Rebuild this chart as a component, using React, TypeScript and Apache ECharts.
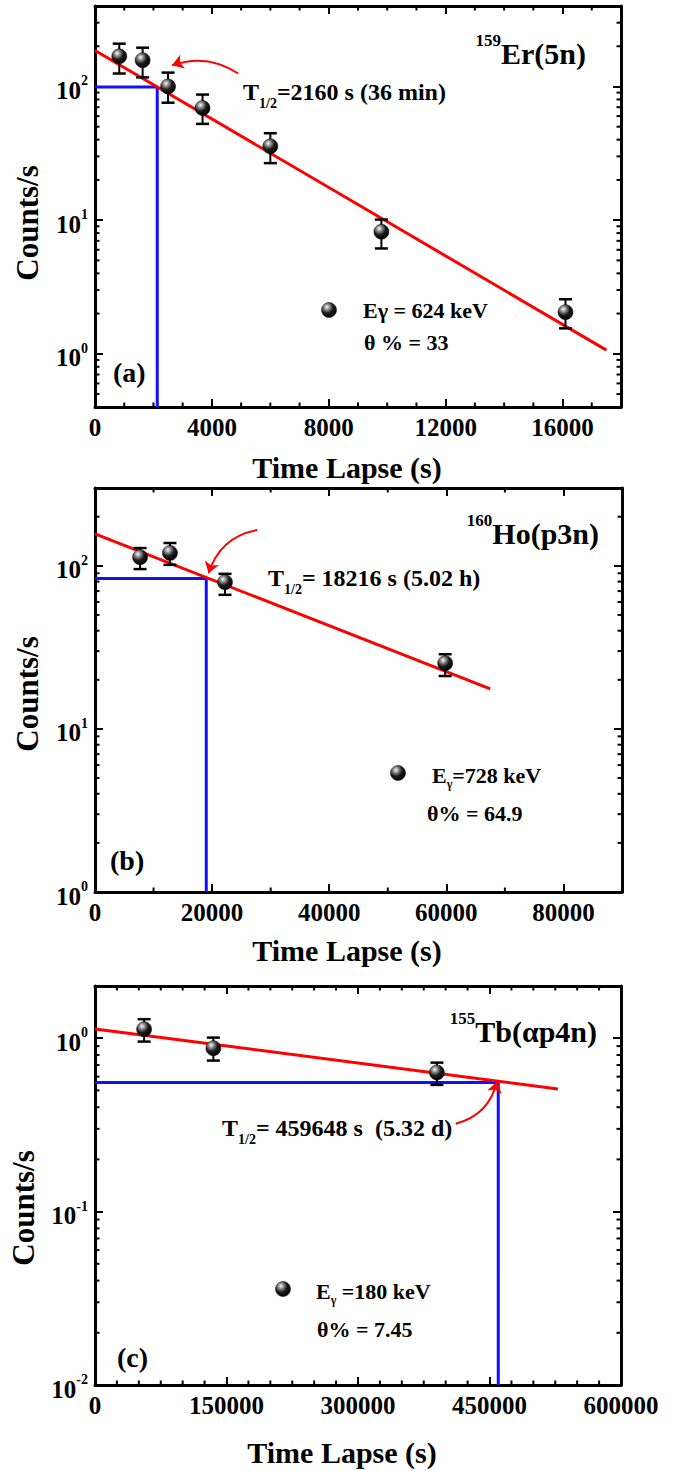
import React, { useEffect, useRef } from "react";
import * as echarts from "echarts";

const FONT = '"Liberation Serif", "Times New Roman", serif';

// ---- Panel (a): 159Er(5n) ----
const aTime = [830, 1630, 2500, 3680, 6000, 9800, 16100];
const aCounts = [168, 157, 100, 69, 35.7, 8.2, 2.05];
const aErrLow = [125, 117, 75.6, 52.5, 26.7, 6.14, 1.55];
const aErrHigh = [209, 195, 127, 87, 44.7, 10.1, 2.56];
const aFitTime = [0, 17500];
const aFitCounts = [186, 1.066];
const aHalfTime = 2130;
const aHalfCounts = 99;
const aArrow = [[4900, 125], [2640, 144]];

// ---- Panel (b): 160Ho(p3n) ----
const bTime = [7700, 12800, 22200, 59800];
const bCounts = [113, 120, 79.4, 25.3];
const bErrLow = [95.5, 101.4, 66.4, 21.1];
const bErrHigh = [128.5, 138, 89.3, 28.7];
const bFitTime = [0, 67500];
const bFitCounts = [157, 17.6];
const bHalfTime = 19000;
const bHalfCounts = 83.6;
const bArrow = [[27700, 166], [19400, 90]];

// ---- Panel (c): 155Tb(αp4n) ----
const cTime = [56000, 135000, 390000];
const cCounts = [1.127, 0.876, 0.634];
const cErrLow = [0.956, 0.743, 0.538];
const cErrHigh = [1.287, 1.008, 0.723];
const cFitTime = [0, 528000];
const cFitCounts = [1.131, 0.51];
const cHalfTime = 460000;
const cHalfCounts = 0.555;
const cArrow = [[411500, 0.321], [458600, 0.562]];

// axis ticks
const LOG_MULTS = [2, 3, 4, 5, 6, 7, 8, 9];
const DECADES = [0.001, 0.01, 0.1, 1, 10, 100, 1000];

function xMinorTicks(max: number, step: number, major: number) {
  const out: number[] = [];
  for (let v = step; v < max; v += step) if (v % major !== 0) out.push(v);
  return out;
}
function yMinorTicks(min: number, max: number) {
  const out: number[] = [];
  for (const d of DECADES)
    for (const m of LOG_MULTS) {
      const v = +(m * d).toPrecision(6);
      if (v > min * 1.0001 && v < max * 0.9999) out.push(v);
    }
  return out;
}

const panels = [
  {
    grid: { left: 95, top: 6, width: 526, height: 401 },
    xMax: 18000, xInt: 4000, xMinor: 1000, yMin: 0.4, yMax: 400,
    time: aTime, counts: aCounts, lo: aErrLow, hi: aErrHigh,
    fitT: aFitTime, fitC: aFitCounts, halfT: aHalfTime, halfC: aHalfCounts,
    arrow: aArrow, curve: -0.25,
  },
  {
    grid: { left: 95, top: 488, width: 527, height: 404 },
    xMax: 90000, xInt: 20000, xMinor: 10000, yMin: 1, yMax: 300,
    time: bTime, counts: bCounts, lo: bErrLow, hi: bErrHigh,
    fitT: bFitTime, fitC: bFitCounts, halfT: bHalfTime, halfC: bHalfCounts,
    arrow: bArrow, curve: -0.3,
  },
  {
    grid: { left: 95, top: 986, width: 526, height: 399 },
    xMax: 600000, xInt: 150000, xMinor: 25000, yMin: 0.01, yMax: 2,
    time: cTime, counts: cCounts, lo: cErrLow, hi: cErrHigh,
    fitT: cFitTime, fitC: cFitCounts, halfT: cHalfTime, halfC: cHalfCounts,
    arrow: cArrow, curve: -0.3,
  },
];

const sphere = {
  type: "radial", x: 0.36, y: 0.3, r: 0.75,
  colorStops: [
    { offset: 0, color: "#fafafa" },
    { offset: 0.22, color: "#9a9a9a" },
    { offset: 0.55, color: "#1c1c1c" },
    { offset: 1, color: "#000" },
  ],
};

const tickStyle = { color: "#000", width: 2 };
const axisLineStyle = { color: "#000", width: 3 };
const TICK_FS = 25;

function buildOption() {
  const grids: any[] = [];
  const xAxes: any[] = [];
  const yAxes: any[] = [];
  const series: any[] = [];

  panels.forEach((p, i) => {
    grids.push({ ...p.grid, outerBoundsMode: "none", containLabel: false });
    const xBase = {
      type: "value", gridIndex: i, min: 0, max: p.xMax, interval: p.xInt,
      splitLine: { show: false },
      axisLine: { show: true, onZero: false, lineStyle: axisLineStyle },
      axisTick: { show: true, inside: true, length: 8, lineStyle: tickStyle },
    };
    xAxes.push({
      ...xBase, position: "bottom",
      axisLabel: {
        show: true, margin: 8, color: "#000", fontFamily: FONT, fontWeight: "bold", fontSize: TICK_FS,
        showMinLabel: true, showMaxLabel: true, hideOverlap: false,
        formatter: (v: number) => (Math.abs(v % p.xInt) < 1e-6 ? String(v) : ""),
      },
    });
    xAxes.push({ ...xBase, position: "top", axisLabel: { show: false } });

    const yBase = {
      type: "log", logBase: 10, gridIndex: i, min: p.yMin, max: p.yMax,
      splitLine: { show: false },
      axisLine: { show: true, onZero: false, lineStyle: axisLineStyle },
      axisTick: { show: true, inside: true, length: 8, lineStyle: tickStyle },
    };
    yAxes.push({
      ...yBase, position: "left",
      axisLabel: {
        show: true, margin: 7, color: "#000",
        fontFamily: FONT, fontWeight: "bold", fontSize: TICK_FS,
        showMinLabel: true, showMaxLabel: true, hideOverlap: false,
        formatter: (v: number) => {
          const e = Math.log10(v);
          const r = Math.round(e);
          if (Math.abs(e - r) > 1e-6) return "";
          return "{b|10}{s|" + r + "}";
        },
        rich: {
          b: { fontFamily: FONT, fontWeight: "bold", fontSize: TICK_FS, lineHeight: TICK_FS, padding: [4, 0, 0, 0], verticalAlign: "top", color: "#000" },
          s: { fontFamily: FONT, fontWeight: "bold", fontSize: 14, lineHeight: 14, verticalAlign: "top", color: "#000" },
        },
      },
    });
    yAxes.push({ ...yBase, position: "right", axisLabel: { show: false } });

    const xi = 2 * i;
    const yi = 2 * i;

    // blue half-life guide
    series.push({
      type: "line", xAxisIndex: xi, yAxisIndex: yi, symbol: "none", silent: true, z: 2,
      lineStyle: { color: "#1010ff", width: 3 },
      data: [[0, p.halfC], [p.halfT, p.halfC], [p.halfT, p.yMin]],
    });
    // red fit
    series.push({
      type: "line", xAxisIndex: xi, yAxisIndex: yi, symbol: "none", silent: true, z: 3,
      lineStyle: { color: "#ff0000", width: 3 },
      data: p.fitT.map((t, k) => [t, p.fitC[k]]),
    });
    // error bars
    series.push({
      type: "custom", xAxisIndex: xi, yAxisIndex: yi, z: 4, silent: true,
      encode: { x: 0, y: [1, 2] },
      data: p.time.map((t, k) => [t, p.lo[k], p.hi[k]]),
      renderItem: (params: any, api: any) => {
        const x = api.value(0);
        const lo = api.coord([x, api.value(1)]);
        const hi = api.coord([x, api.value(2)]);
        const w = 6.5;
        const st = { stroke: "#000", lineWidth: 2 };
        return {
          type: "group",
          children: [
            { type: "line", shape: { x1: lo[0], y1: lo[1], x2: hi[0], y2: hi[1] }, style: st },
            { type: "line", shape: { x1: lo[0] - w, y1: lo[1], x2: lo[0] + w, y2: lo[1] }, style: { stroke: "#000", lineWidth: 2.5 } },
            { type: "line", shape: { x1: hi[0] - w, y1: hi[1], x2: hi[0] + w, y2: hi[1] }, style: { stroke: "#000", lineWidth: 2.5 } },
          ],
        };
      },
    });
    // points
    series.push({
      type: "scatter", xAxisIndex: xi, yAxisIndex: yi, z: 5, silent: true,
      symbol: "circle", symbolSize: 15,
      itemStyle: { color: sphere, borderColor: "#000", borderWidth: 0.5, opacity: 1 },
      data: p.time.map((t, k) => [t, p.counts[k]]),
    });
    // curved arrow
    series.push({
      type: "lines", coordinateSystem: "cartesian2d", xAxisIndex: xi, yAxisIndex: yi, z: 6, silent: true,
      symbol: ["none", "arrow"], symbolSize: 11,
      lineStyle: { color: "#ff0000", width: 2, curveness: p.curve, opacity: 1 },
      data: [{ coords: p.arrow }],
    });
    // minor ticks
    const minorData: any[] = [];
    yMinorTicks(p.yMin, p.yMax).forEach((v) => minorData.push([0, v, 0]));
    xMinorTicks(p.xMax, p.xMinor, p.xInt).forEach((v) => minorData.push([v, p.yMin, 1]));
    series.push({
      type: "custom", xAxisIndex: xi, yAxisIndex: yi, z: 7, silent: true, clip: false,
      encode: { x: 0, y: 1 },
      data: minorData,
      renderItem: (params: any, api: any) => {
        const cs = params.coordSys;
        const kind = api.value(2);
        const L = 4.5;
        const st = { stroke: "#000", lineWidth: 2 };
        if (kind === 0) {
          const y = api.coord([0, api.value(1)])[1];
          return {
            type: "group",
            children: [
              { type: "line", shape: { x1: cs.x, y1: y, x2: cs.x + L, y2: y }, style: st },
              { type: "line", shape: { x1: cs.x + cs.width - L, y1: y, x2: cs.x + cs.width, y2: y }, style: st },
            ],
          };
        }
        const x = api.coord([api.value(0), p.yMin])[0];
        return {
          type: "group",
          children: [
            { type: "line", shape: { x1: x, y1: cs.y + cs.height, x2: x, y2: cs.y + cs.height - L }, style: st },
            { type: "line", shape: { x1: x, y1: cs.y, x2: x, y2: cs.y + L }, style: st },
          ],
        };
      },
    });
  });

  const base = { fontFamily: FONT, fontWeight: "bold", fill: "#000" };
  const t = (x: number, y: number, text: string, fontSize: number, extra: any = {}) => ({
    type: "text", x, y, z: 100, silent: true,
    style: { ...base, text, fontSize, align: "left", verticalAlign: "middle", ...extra },
  });
  const annRich = {
    m: { ...base, fontSize: 24, lineHeight: 24, verticalAlign: "top" },
    s: { ...base, fontSize: 14, lineHeight: 14, padding: [16, 0, 0, 0], verticalAlign: "top" },
  };
  const titleRich = {
    p: { ...base, fontSize: 17, lineHeight: 17, verticalAlign: "top" },
    t: { ...base, fontSize: 30, lineHeight: 30, padding: [6, 0, 0, 0], verticalAlign: "top" },
  };
  const legRich = {
    m: { ...base, fontSize: 22, lineHeight: 22, verticalAlign: "top" },
    s: { ...base, fontSize: 12, lineHeight: 12, padding: [14, 0, 0, 0], verticalAlign: "top" },
  };
  const marker = (cx: number, cy: number) => ({
    type: "circle", z: 100, silent: true, shape: { cx, cy, r: 7.5 },
    style: { fill: sphere, stroke: "#000", lineWidth: 0.5 },
  });
  const rot = (x: number, y: number, text: string) => ({
    type: "text", x, y, rotation: Math.PI / 2, z: 100, silent: true,
    style: { ...base, text, fontSize: 31, align: "center", verticalAlign: "middle" },
  });

  const graphic: any[] = [
    // (a)
    t(243, 92, "{m|T}{s|1/2}{m|=2160 s (36 min)}", 24, { rich: annRich }),
    t(586, 47, "{p|159}{t|Er(5n)}", 30, { rich: titleRich, align: "right" }),
    marker(329, 310),
    t(363, 310, "Eγ = 624 keV", 22),
    t(364, 342, "θ % = 33", 22),
    t(113, 372, "(a)", 28),
    t(347, 467, "Time Lapse (s)", 30, { align: "center" }),
    rot(27, 223, "Counts/s"),
    // (b)
    t(268, 578, "{m|T}{s|1/2}{m|= 18216 s (5.02 h)}", 24, { rich: annRich }),
    t(599, 527, "{p|160}{t|Ho(p3n)}", 30, { rich: titleRich, align: "right" }),
    marker(398, 773),
    t(432, 775, "{m|E}{s|γ}{m|=728 keV}", 22, { rich: legRich }),
    t(427, 813, "θ% = 64.9", 22),
    t(110, 860, "(b)", 28),
    t(347, 950, "Time Lapse (s)", 30, { align: "center" }),
    rot(27, 694, "Counts/s"),
    // (c)
    t(222, 1128, "{m|T}{s|1/2}{m|= 459648 s  (5.32 d)}", 24, { rich: annRich }),
    t(597, 1025, "{p|155}{t|Tb(αp4n)}", 30, { rich: titleRich, align: "right" }),
    marker(283, 1289),
    t(316, 1291, "{m|E}{s|γ}{m| =180 keV}", 22, { rich: legRich }),
    t(317, 1329, "θ% = 7.45", 22),
    t(117, 1357, "(c)", 28),
    t(342, 1452, "Time Lapse (s)", 30, { align: "center" }),
    rot(23, 1208, "Counts/s"),
  ];

  return {
    animation: false,
    backgroundColor: "#fff",
    grid: grids,
    xAxis: xAxes,
    yAxis: yAxes,
    series,
    graphic,
  };
}

export default function App() {
  const ref = useRef<HTMLDivElement>(null);
  useEffect(() => {
    if (!ref.current) return;
    const chart = echarts.init(ref.current, undefined, { renderer: "svg" });
    chart.setOption(buildOption() as any);
    return () => chart.dispose();
  }, []);
  return (
    <div
      ref={ref}
      style={{ position: "absolute", left: 0, top: 0, width: 675, height: 1471, background: "#fff" }}
    />
  );
}
